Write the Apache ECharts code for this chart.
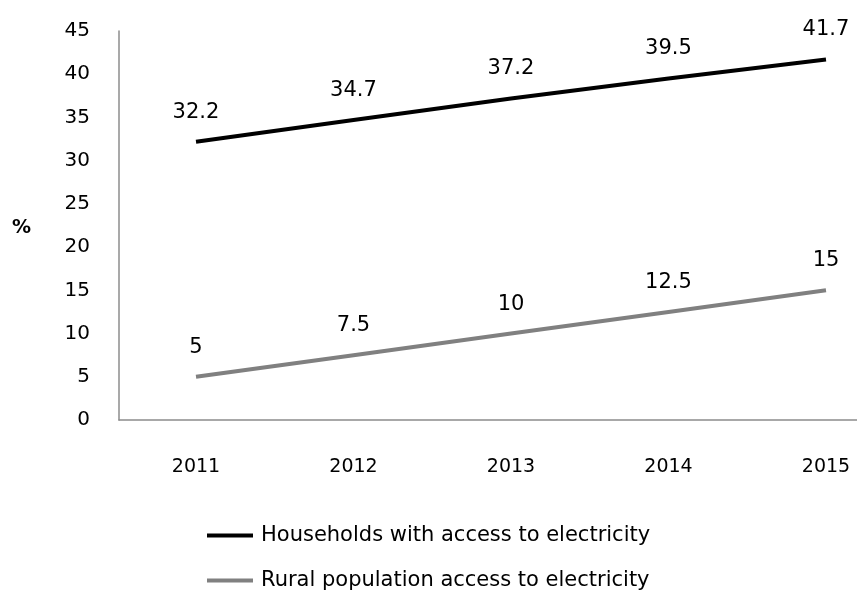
<!DOCTYPE html>
<html>
<head>
<meta charset="utf-8">
<script src="https://cdn.jsdelivr.net/npm/echarts@6/dist/echarts.min.js"></script>
<style>
  html, body { margin: 0; padding: 0; background: #fff; }
  #main { width: 857px; height: 596px; }
</style>
</head>
<body>
<div id="main"></div>
<script>
// data
var years = ['2011', '2012', '2013', '2014', '2015'];
var households = [32.2, 34.7, 37.2, 39.5, 41.7];
var rural = [5, 7.5, 10, 12.5, 15];
var yTicks = [0, 5, 10, 15, 20, 25, 30, 35, 40, 45];

var seriesNames = ['Households with access to electricity', 'Rural population access to electricity'];
var fontFam = '"DejaVu Sans", sans-serif';

var myChart = echarts.init(document.getElementById('main'));

// grid 0: frame (axis lines + y labels), grid 1: the lines, cropped at the right like the original
var option = {
    animation: false,
    textStyle: { fontFamily: fontFam },
    grid: [
        { left: 119, right: 0, top: 31, bottom: 176 },
        { left: 196, right: 31, top: 31, bottom: 176 }
    ],
    graphic: [{
        type: 'text',
        left: 12,
        top: 219,
        style: { text: '%', fontSize: 19, fontWeight: 'bold', fill: '#000', fontFamily: fontFam }
    }],
    legend: {
        orient: 'vertical',
        left: 207,
        top: 525,
        height: 90,
        padding: 0,
        itemWidth: 46,
        itemHeight: 4,
        itemGap: 24,
        textStyle: { fontSize: 21, color: '#000', fontFamily: fontFam, padding: [0, 0, 0, 3] },
        data: [
            { name: seriesNames[0], icon: 'rect' },
            { name: seriesNames[1], icon: 'rect' }
        ]
    },
    xAxis: [{
        gridIndex: 0,
        type: 'value',
        min: 0,
        max: 1,
        axisLine: { show: true, onZero: false, lineStyle: { color: '#8c8c8c', width: 1.5 } },
        axisTick: { show: false },
        axisLabel: { show: false },
        splitLine: { show: false }
    }, {
        gridIndex: 1,
        type: 'category',
        data: years,
        boundaryGap: false,
        axisLine: { show: false },
        axisTick: { show: false },
        axisLabel: { fontSize: 19, color: '#000', margin: 38 }
    }],
    yAxis: [{
        gridIndex: 0,
        type: 'value',
        min: yTicks[0],
        max: yTicks[yTicks.length - 1],
        interval: 5,
        axisLine: { show: true, lineStyle: { color: '#8c8c8c', width: 1.5 } },
        axisTick: { show: false },
        splitLine: { show: false },
        axisLabel: { fontSize: 20, color: '#000', margin: 29 }
    }, {
        gridIndex: 1,
        type: 'value',
        min: yTicks[0],
        max: yTicks[yTicks.length - 1],
        interval: 5,
        show: false
    }],
    series: [{
        name: seriesNames[0],
        type: 'line',
        xAxisIndex: 1,
        yAxisIndex: 1,
        data: households,
        symbol: 'circle',
        symbolSize: 0,
        showSymbol: true,
        color: '#000',
        lineStyle: { color: '#000', width: 4 },
        label: { show: true, position: 'top', distance: 19, fontSize: 21, color: '#000' }
    }, {
        name: seriesNames[1],
        type: 'line',
        xAxisIndex: 1,
        yAxisIndex: 1,
        data: rural,
        symbol: 'circle',
        symbolSize: 0,
        showSymbol: true,
        color: '#808080',
        lineStyle: { color: '#808080', width: 4 },
        label: { show: true, position: 'top', distance: 19, fontSize: 21, color: '#000' }
    }]
};

myChart.setOption(option);
</script>
</body>
</html>
